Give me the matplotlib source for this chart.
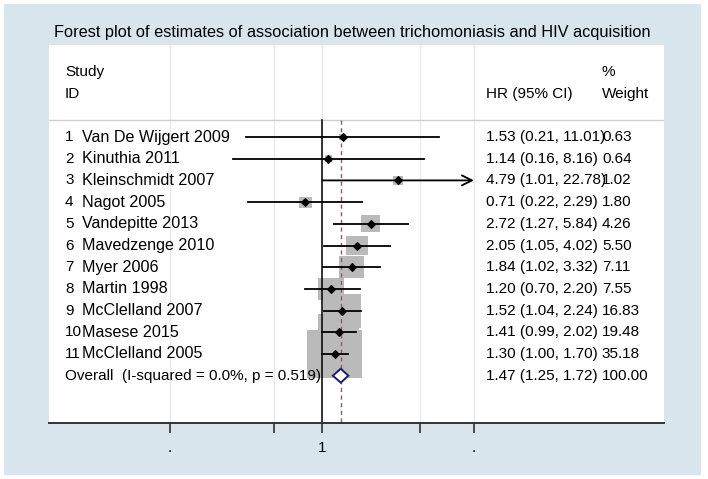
import matplotlib.pyplot as plt
from matplotlib.patches import Rectangle, Polygon
import numpy as np

plt.rcParams['font.family'] = ['Liberation Sans', 'DejaVu Sans']

# datos del forest plot
studies = ["Van De Wijgert 2009", "Kinuthia 2011", "Kleinschmidt 2007", "Nagot 2005",
           "Vandepitte 2013", "Mavedzenge 2010", "Myer 2006", "Martin 1998",
           "McClelland 2007", "Masese 2015", "McClelland 2005"]
hr = [1.53, 1.14, 4.79, 0.71, 2.72, 2.05, 1.84, 1.20, 1.52, 1.41, 1.30]
lower = [0.21, 0.16, 1.01, 0.22, 1.27, 1.05, 1.02, 0.70, 1.04, 0.99, 1.00]
upper = [11.01, 8.16, 22.78, 2.29, 5.84, 4.02, 3.32, 2.20, 2.24, 2.02, 1.70]
weight = [0.63, 0.64, 1.02, 1.80, 4.26, 5.50, 7.11, 7.55, 16.83, 19.48, 35.18]
overall_hr, overall_lo, overall_hi = 1.47, 1.25, 1.72
overall_label = "Overall  (I-squared = 0.0%, p = 0.519)"
tick_vals = [0.0439, 0.37, 1, 7.5, 22.78]
tick_labels = [".", "", "1", "", "."]

bg_blue = '#d9e5ed'
fig = plt.figure(figsize=(7.08, 4.79), dpi=100)
fig.patch.set_facecolor('white')
fig.add_artist(Rectangle((4 / 708, 4 / 479), 697 / 708, 471 / 479,
                         transform=fig.transFigure, facecolor=bg_blue,
                         edgecolor='none', zorder=-10))

ax = fig.add_axes([49 / 708, 56 / 479, 615 / 708, 378 / 479])
ax.set_facecolor('white')
ax.set_xscale('log')
ax.set_xlim(0.00363, 1138)
ax.set_ylim(14.18, -3.24)

n = len(studies)
rows = np.arange(1, n + 1)
y_over = n + 1

# lineas de referencia
for t in tick_vals:
    ax.axvline(t, color='#e4ebef', lw=1.0, zorder=0)
ax.axhline(0.22, color='#cfcfcf', lw=1.0, zorder=0)
ax.plot([1, 1], [0.22, 14.18], color='black', lw=1.1, zorder=2)
ax.plot([overall_hr, overall_hr], [0.22, 14.18], color='#8c5a72', lw=1.0,
        ls=(0, (3, 2.5)), zorder=2)

# cajas segun peso
for y, est, w in zip(rows, hr, weight):
    hw = 0.0954 * np.sqrt(w)
    hh = 0.19 * np.sqrt(w)
    ax.add_patch(Rectangle((est * np.exp(-hw), y - hh), est * (np.exp(hw) - np.exp(-hw)),
                           2 * hh, facecolor='#bababa', edgecolor='none', zorder=1))

# intervalos de confianza
for y, lo, hi in zip(rows, lower, upper):
    if hi >= tick_vals[-1]:
        ax.annotate('', xy=(hi, y), xytext=(lo, y),
                    arrowprops=dict(arrowstyle='->', lw=1.3, color='black',
                                    mutation_scale=18, shrinkA=0, shrinkB=0),
                    zorder=3)
    else:
        ax.plot([lo, hi], [y, y], color='black', lw=1.3, zorder=3)
ax.scatter(hr, rows, marker='D', s=15, color='black', zorder=4)

# diamante global
ax.add_patch(Polygon([(overall_lo, y_over), (overall_hr, y_over - 0.32),
                      (overall_hi, y_over), (overall_hr, y_over + 0.32)],
                     closed=True, facecolor='white', edgecolor='#1c1c6b',
                     lw=1.4, zorder=4))

# columnas de texto
tr = ax.get_yaxis_transform()
fs = 11
fs_name = 11.6
x_num, x_name, x_hr, x_w = 0.026, 0.0537, 0.7106, 0.899
ax.text(x_num, -2.0, "Study", transform=tr, fontsize=fs, va='center')
ax.text(x_num, -0.98, "ID", transform=tr, fontsize=fs, va='center')
ax.text(x_hr, -0.98, "HR (95% CI)", transform=tr, fontsize=fs, va='center')
ax.text(x_w, -2.0, "%", transform=tr, fontsize=fs, va='center')
ax.text(x_w, -0.98, "Weight", transform=tr, fontsize=fs, va='center')

for i, (y, name) in enumerate(zip(rows, studies)):
    ax.text(x_num, y, str(i + 1), transform=tr, fontsize=fs, va='center')
    ax.text(x_name, y, name, transform=tr, fontsize=fs_name, va='center')
    ax.text(x_hr, y, f"{hr[i]:.2f} ({lower[i]:.2f}, {upper[i]:.2f})",
            transform=tr, fontsize=fs, va='center')
    ax.text(x_w, y, f"{weight[i]:.2f}", transform=tr, fontsize=fs, va='center')

ax.text(x_num, y_over, overall_label, transform=tr, fontsize=fs, va='center')
ax.text(x_hr, y_over, f"{overall_hr:.2f} ({overall_lo:.2f}, {overall_hi:.2f})",
        transform=tr, fontsize=fs, va='center')
ax.text(x_w, y_over, f"{sum(weight):.2f}", transform=tr, fontsize=fs, va='center')

# ejes
for s in ['top', 'left', 'right']:
    ax.spines[s].set_visible(False)
ax.spines['bottom'].set_color('#333333')
ax.spines['bottom'].set_linewidth(1.4)
ax.set_yticks([])
ax.set_xticks(tick_vals)
ax.set_xticklabels(tick_labels)
ax.minorticks_off()
ax.tick_params(axis='x', length=7, width=1.2, color='#333333', labelsize=fs, pad=6)

fig.text(54 / 708, 1 - 32 / 479, "Forest plot of estimates of association between trichomoniasis and HIV acquisition",
         fontsize=11.8, va='center', ha='left')

fig.savefig('out.png', dpi=100, facecolor=fig.get_facecolor())
